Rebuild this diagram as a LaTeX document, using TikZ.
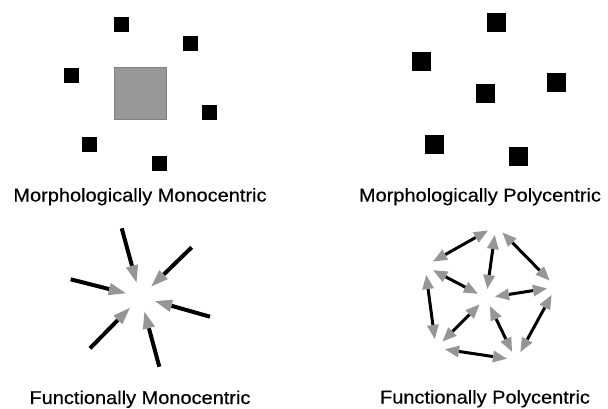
\documentclass[tikz,border=0pt]{standalone}
\usepackage{fontspec}
\setmainfont{Liberation Sans}[FakeStretch=1.08, FakeBold=0.4]
\usepackage{tikz}
\usetikzlibrary{arrows.meta}
\definecolor{headgray}{RGB}{150,150,150}
\definecolor{coregray}{RGB}{152,152,152}

\begin{document}
\begin{tikzpicture}[x=1pt, y=-1pt,
    town/.style={rectangle, fill=black, inner sep=0pt, minimum size=15pt},
    bigtown/.style={rectangle, fill=black, inner sep=0pt, minimum size=19pt},
    core/.style={rectangle, fill=coregray, draw=black!50, line width=0.6pt, inner sep=0pt, minimum size=52pt},
    caption/.style={anchor=base, inner sep=0pt, font=\fontsize{18.5}{20}\selectfont},
    flow/.style={-{Triangle[length=17pt, width=12.5pt, line width=0pt, color=headgray]}, line width=4pt},
    link/.style={{Triangle[length=14pt, width=12pt, line width=0pt, color=headgray]}-{Triangle[length=14pt, width=12pt, line width=0pt, color=headgray]}, line width=3pt},
    hub/.style={circle, inner sep=0pt, minimum size=30pt},
    stop/.style={circle, inner sep=0pt, minimum size=18pt}
]
\useasboundingbox (0,0) rectangle (608,408);

\node[core] (core) at (140.5,93) {};
\node[town] (m1) at (121.5,24.5) {};
\node[town] (m2) at (190.5,43) {};
\node[town] (m3) at (71,75) {};
\node[town] (m4) at (209.5,112) {};
\node[town] (m5) at (89.5,144.5) {};
\node[town] (m6) at (159,163) {};
\node[caption] (capmm) at (140,201.5) {Morphologically Monocentric};

\node[bigtown] (p1) at (496.5,22.5) {};
\node[bigtown] (p2) at (421.5,61) {};
\node[bigtown] (p3) at (485.5,93.5) {};
\node[bigtown] (p4) at (556.5,82.5) {};
\node[bigtown] (p5) at (434.5,144.5) {};
\node[bigtown] (p6) at (518.5,156) {};
\node[caption] (capmp) at (480,201.5) {Morphologically Polycentric};

\node[hub] (hub) at (140.5,297) {};
\coordinate (f1) at (121.7,228.3);
\coordinate (f2) at (191.7,247.3);
\coordinate (f3) at (70.7,279.3);
\coordinate (f4) at (210,316.7);
\coordinate (f5) at (90,348.3);
\coordinate (f6) at (159.3,366.7);
\draw[flow] (f1) -- (hub);
\draw[flow] (f2) -- (hub);
\draw[flow] (f3) -- (hub);
\draw[flow] (f4) -- (hub);
\draw[flow] (f5) -- (hub);
\draw[flow] (f6) -- (hub);
\node[caption] (capfm) at (140,404) {Functionally Monocentric};

\node[stop] (pt) at (496,226) {};
\node[stop] (pul) at (425,266) {};
\node[stop] (pll) at (436,348) {};
\node[stop] (pb) at (516,360) {};
\node[stop] (pr) at (556,287) {};
\node[stop] (pc) at (486,298) {};
\draw[link] (pt) -- (pul);
\draw[link] (pul) -- (pll);
\draw[link] (pll) -- (pb);
\draw[link] (pb) -- (pr);
\draw[link] (pr) -- (pt);
\draw[link] (pc) -- (pt);
\draw[link] (pc) -- (pul);
\draw[link] (pc) -- (pll);
\draw[link] (pc) -- (pb);
\draw[link] (pc) -- (pr);
\node[caption] (capfp) at (485,403.5) {Functionally Polycentric};

\end{tikzpicture}
\end{document}
